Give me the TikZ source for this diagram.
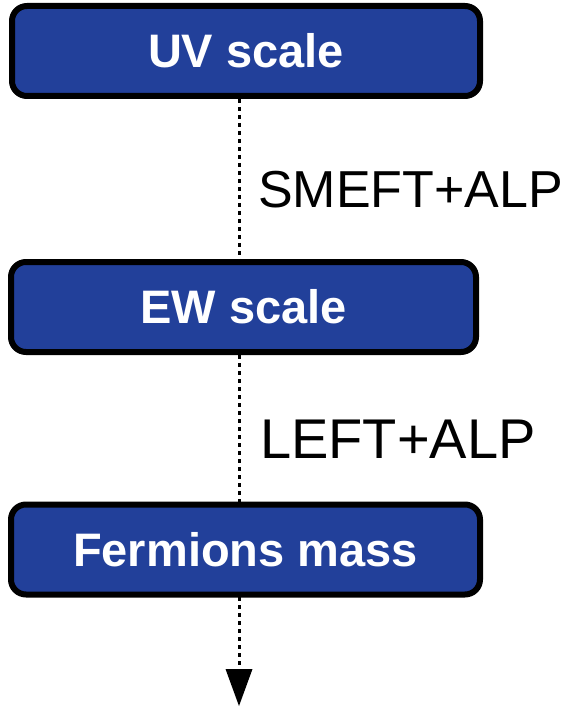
\documentclass[tikz,border=0pt]{standalone}
\usepackage{fontspec}
\setmainfont{Liberation Sans}
\usetikzlibrary{arrows.meta}

\definecolor{scaleblue}{RGB}{34,64,154}

\tikzset{
  scalebox/.style={draw=black, fill=scaleblue, line width=6pt, rounded corners=15pt,
    minimum height=90pt, text=white, inner sep=0pt,
    font=\fontsize{47}{50}\selectfont\bfseries},
  eftlabel/.style={anchor=base west, inner sep=0pt, font=\fontsize{56}{60}\selectfont},
  flow/.style={line width=3pt, dash pattern=on 4pt off 4pt}
}

\begin{document}
\begin{tikzpicture}[x=1pt, y=-1pt, line cap=butt, line join=round]
  \useasboundingbox (0, 0) rectangle (573, 708);

  % Scales
  \node[scalebox, minimum width=468pt] (uv) at (246, 51) {UV scale};
  \node[scalebox, minimum width=465pt] (ew) at (243.5, 307) {EW scale};
  \node[scalebox, minimum width=469pt] (ferm) at (245.5, 549.5) {Fermions mass};

  % Running
  \coordinate (uvb) at (239, 99);
  \coordinate (ewt) at (239, 259);
  \coordinate (ewb) at (239, 355);
  \coordinate (fermt) at (239, 502);
  \coordinate (fermb) at (239, 597);
  \coordinate (end) at (239, 706);
  \draw[flow] (uvb) -- (ewt);
  \draw[flow] (ewb) -- (fermt);
  \draw[flow, -{Triangle[width=27pt, length=37pt, line width=0pt]}] (fermb) -- (end);

  % Theories
  \node[eftlabel, font=\fontsize{52}{56}\selectfont] (smeft) at (258, 208) {SMEFT+ALP};
  \node[eftlabel] (left) at (260, 458) {LEFT+ALP};
\end{tikzpicture}
\end{document}
